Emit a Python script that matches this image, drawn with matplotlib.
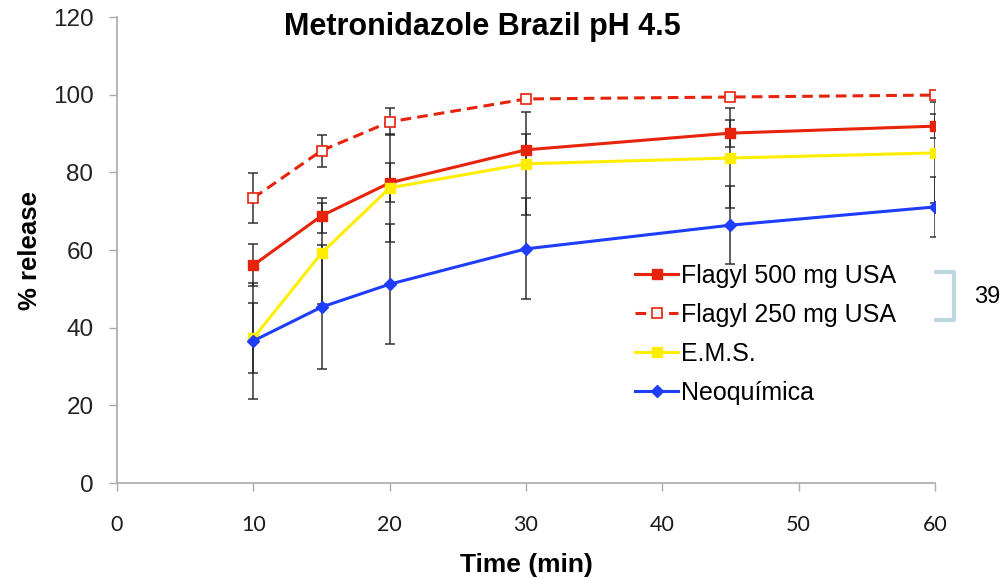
import matplotlib
matplotlib.use("Agg")
import matplotlib.pyplot as plt
from matplotlib.lines import Line2D

plt.rcParams['font.family'] = ['Liberation Sans', 'DejaVu Sans']

# Sampling times (min)
time_min = [10, 15, 20, 30, 45, 60]

# Mean % release per product
flagyl500 = [56.1, 68.8, 77.3, 85.8, 90.1, 91.9]
flagyl250 = [73.4, 85.6, 93.0, 98.9, 99.4, 99.9]
ems = [37.3, 59.2, 76.0, 82.2, 83.7, 85.0]
neoquimica = [36.6, 45.3, 51.2, 60.3, 66.4, 71.1]

# Standard deviations
flagyl500_sd = [5.4, 4.5, 5.0, 4.2, 3.5, 3.0]
flagyl250_sd = [6.4, 4.1, 3.5, 1.0, 1.0, 1.0]
ems_sd = [9.0, 13.0, 14.0, 13.3, 13.0, 13.0]
neoquimica_sd = [15.0, 16.0, 15.5, 13.0, 10.0, 7.7]

labels = ["Flagyl 500 mg USA", "Flagyl 250 mg USA", "E.M.S.", "Neoquímica"]

RED = "#E8230C"
YELLOW = "#FFEE00"
BLUE = "#1F3DFF"

fig = plt.figure(figsize=(10.02, 5.79), dpi=100)
ax = fig.add_axes([0.1168, 0.1658, 0.8163, 0.8048])

series = [
    (flagyl500, flagyl500_sd, dict(color=RED, ls='-', marker='s', mfc=RED, mec=RED, ms=7.5)),
    (flagyl250, flagyl250_sd, dict(color=RED, ls=(0, (3.5, 2)), marker='s', mfc='white', mec=RED, ms=7.5, mew=1.2)),
    (ems, ems_sd, dict(color=YELLOW, ls='-', marker='s', mfc=YELLOW, mec=YELLOW, ms=7.5)),
    (neoquimica, neoquimica_sd, dict(color=BLUE, ls='-', marker='D', mfc=BLUE, mec=BLUE, ms=6)),
]

handles = []
for (vals, sd, style), lab in zip(series, labels):
    ax.errorbar(time_min, vals, yerr=sd, fmt='none', ecolor='#222222',
                elinewidth=1.2, capsize=3.5, capthick=1.2, zorder=2, alpha=0.85)
    h, = ax.plot(time_min, vals, lw=2.2, zorder=3, label=lab, **style)
    handles.append(h)

ax.set_xlim(0, 60)
ax.set_ylim(0, 120)
ax.set_xticks(range(0, 61, 10))
ax.set_yticks(range(0, 121, 20))
ax.tick_params(axis='y', labelsize=17.5, direction='out', length=6, width=1,
               color='#AAAAAA', pad=11, labelcolor='#222222')
ax.tick_params(axis='x', labelsize=15.5, direction='out', length=6, width=1,
               color='#AAAAAA', pad=17, labelcolor='#1A1A1A')
for lbl in ax.get_xticklabels():
    lbl.set_family(['Lato', 'DejaVu Sans'])
for side in ('top', 'right'):
    ax.spines[side].set_visible(False)
for side in ('left', 'bottom'):
    ax.spines[side].set_color('#AAAAAA')
    ax.spines[side].set_linewidth(1.2)

ax.set_xlabel("Time (min)", fontsize=19, fontweight='bold', labelpad=13)
ax.set_ylabel("% release", fontsize=18.5, fontweight='bold', labelpad=8)
fig.text(0.481, 1 - 27 / 579, "Metronidazole Brazil pH 4.5", fontsize=22,
         fontweight='bold', ha='center', va='center')

leg = fig.legend(handles=handles, labels=labels, loc='upper left',
                 bbox_to_anchor=(0.634, 1 - 264 / 579), frameon=False,
                 fontsize=18, handlelength=1.72, handletextpad=0.12,
                 labelspacing=0.6, borderpad=0, borderaxespad=0)

# Bracket beside the legend
bx0, bx1 = 936 / 1002, 954 / 1002
by0, by1 = 1 - 272 / 579, 1 - 320 / 579
fig.add_artist(Line2D([bx0, bx1, bx1, bx0], [by0, by0, by1, by1],
                      color='#BBD9DD', lw=3, transform=fig.transFigure))
fig.text(974 / 1002, 1 - 297 / 579, "39", fontsize=17, ha='left', va='center')

fig.savefig("out.png", dpi=100)
